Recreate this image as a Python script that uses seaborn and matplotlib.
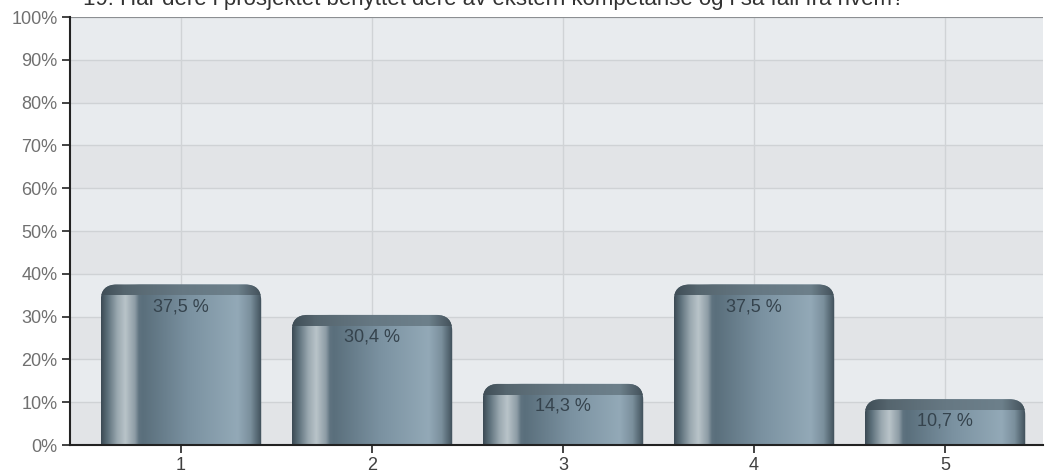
import numpy as np
import matplotlib
matplotlib.use("Agg")
import matplotlib.pyplot as plt
import seaborn as sns
from matplotlib.colors import LinearSegmentedColormap
from matplotlib.patches import FancyBboxPatch

categories = ["1", "2", "3", "4", "5"]
values = [37.5, 30.4, 14.3, 37.5, 10.7]
value_labels = ["37,5 %", "30,4 %", "14,3 %", "37,5 %", "10,7 %"]
yticks = list(range(0, 101, 10))
ytick_labels = [f"{t}%" for t in yticks]
title = "19. Har dere i prosjektet benyttet dere av ekstern kompetanse og i så fall fra hvem?"

sns.set_style("white")
plt.rcParams["font.family"] = ["Liberation Sans", "DejaVu Sans"]

W, H = 1045, 476
fig = plt.figure(figsize=(W / 100, H / 100), dpi=100)
ax_px = (70, 31, 973, 428)
ax = fig.add_axes([ax_px[0] / W, ax_px[1] / H, ax_px[2] / W, ax_px[3] / H])

sns.barplot(x=categories, y=values, ax=ax, width=0.84, color="#7a90a0",
            edgecolor="none", zorder=2)

ax.set_ylim(0, 100)
ax.set_xlim(-0.581, 4.513)
x_per_px = (4.513 + 0.581) / ax_px[2]
y_per_px = 100 / ax_px[3]

# alternating background bands
for lo in range(0, 100, 10):
    band = "#e8ebee" if (lo // 10) % 2 == 1 else "#e2e4e7"
    ax.axhspan(lo, lo + 10, color=band, zorder=0, lw=0)
for t in yticks[1:]:
    ax.axhline(t, color="#cfd2d5", lw=1, zorder=1)
for i in range(len(categories)):
    ax.axvline(i, color="#d0d3d6", lw=1, zorder=1)
ax.axhline(100, color="#8c8f92", lw=1.5, zorder=1)

# gradient bars clipped to rounded shapes
bar_cmap = LinearSegmentedColormap.from_list("bar", [
    (0.00, "#3c4b55"), (0.04, "#5d707b"), (0.10, "#9aa8b0"),
    (0.15, "#b9c4c9"), (0.21, "#8d9ca5"), (0.235, "#5f7380"),
    (0.26, "#5a6f7c"), (0.55, "#7b92a1"), (0.85, "#93a9b7"),
    (0.93, "#7b909d"), (1.00, "#3f4f59")])
cap_cmap = LinearSegmentedColormap.from_list("cap", [
    (0.0, "#3f4d56"), (0.15, "#56666f"), (0.5, "#667883"),
    (0.85, "#6d808b"), (1.0, "#414f58")])
grad = np.linspace(0, 1, 256).reshape(1, -1)

bars = list(ax.patches)
for patch, lab in zip(bars, value_labels):
    x0, w, h = patch.get_x(), patch.get_width(), patch.get_height()
    patch.set_visible(False)
    rad_px = 16
    shape = FancyBboxPatch((x0, -10), w, h + 10,
                           boxstyle=f"round,pad=0,rounding_size={rad_px * x_per_px}",
                           mutation_aspect=y_per_px / x_per_px,
                           transform=ax.transData, facecolor="none",
                           edgecolor="none", zorder=2)
    ax.add_patch(shape)
    im = ax.imshow(grad, cmap=bar_cmap, aspect="auto",
                   extent=(x0, x0 + w, 0, h), zorder=2)
    im.set_clip_path(shape)
    cap_h = 11 * y_per_px
    cap = ax.imshow(grad, cmap=cap_cmap, aspect="auto",
                    extent=(x0, x0 + w, h - cap_h, h), zorder=2.1)
    cap.set_clip_path(shape)
    ax.annotate(lab, (x0 + w / 2, h), xytext=(0, -16), textcoords="offset points",
                ha="center", va="center", fontsize=13, color="#35434d", zorder=3)

ax.set_yticks(yticks)
ax.set_yticklabels(ytick_labels, color="#707070", fontsize=13)
ax.set_xticks(range(len(categories)))
ax.set_xticklabels(categories, color="#404040", fontsize=13)
ax.tick_params(axis="both", direction="out", length=6, width=1.2, color="#222222",
               left=True, bottom=True, pad=3)
for side in ["top", "right"]:
    ax.spines[side].set_visible(False)
for side in ["left", "bottom"]:
    ax.spines[side].set_color("#222222")
    ax.spines[side].set_linewidth(1.5)
    ax.spines[side].set_zorder(4)
ax.set_xlabel("")
ax.set_ylabel("")

fig.text(494 / W, 1 - 5 / H, title, ha="center", va="baseline",
         fontsize=16, color="#333333")

fig.savefig("out.png", dpi=100)
